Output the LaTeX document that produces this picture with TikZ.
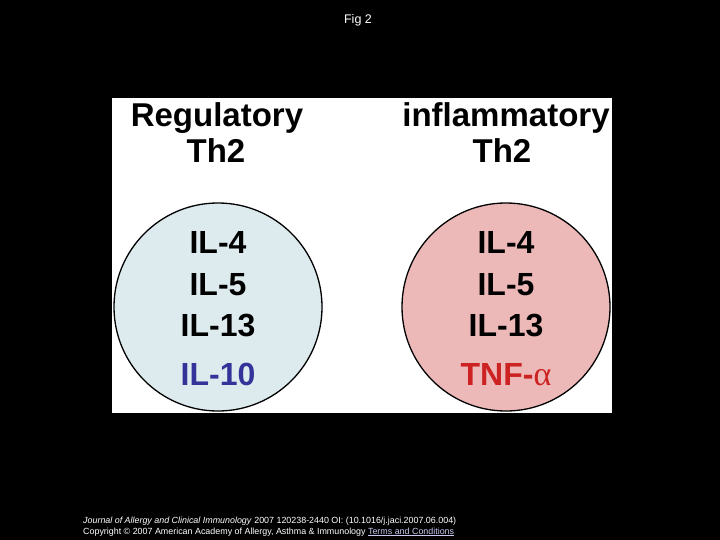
\documentclass[tikz,border=0pt]{standalone}
\usepackage{fontspec}
\setmainfont{Liberation Sans}
\newfontfamily\serifalpha{Liberation Serif}
\begin{document}
\begin{tikzpicture}[x=1pt,y=-1pt,
  head/.style={font=\fontsize{33}{36}\selectfont\bfseries, anchor=base, inner sep=0pt},
  cyto/.style={font=\fontsize{32}{36}\selectfont\bfseries, anchor=base, inner sep=0pt},
  cell/.style={circle, draw=black, line width=1.3pt, minimum size=208pt, inner sep=0pt},
  foot/.style={font=\fontsize{8.9}{10}\selectfont, text=white, anchor=base west, inner sep=0pt}]
\definecolor{regfill}{HTML}{DDEBEE}
\definecolor{inffill}{HTML}{EDB8B8}
\definecolor{ilblue}{HTML}{333399}
\definecolor{tnfred}{HTML}{CC2222}
\definecolor{linkc}{HTML}{C8C8F0}
\fill[black] (0,0) rectangle (720,540);
\useasboundingbox (0,0) rectangle (720,540);
\node[font=\fontsize{12.5}{14}\selectfont, text=white, anchor=base, inner sep=0pt] (title) at (358,24) {Fig 2};
\fill[white] (112,98) rectangle (612,413);
\node[cell, fill=regfill] (reg) at (218,307) {};
\node[cell, fill=inffill] (inf) at (506,307) {};
\node[head] (h1a) at (217,127) {Regulatory};
\node[head] (h1b) at (216,163) {Th2};
\node[head] (h2a) at (506,127) {inflammatory};
\node[head] (h2b) at (502,163) {Th2};
\node[cyto] (l4) at (218,253) {IL-4};
\node[cyto] (l5) at (218,295) {IL-5};
\node[cyto] (l13) at (218,336) {IL-13};
\node[cyto, text=ilblue] (l10) at (218,385) {IL-10};
\node[cyto] (r4) at (506,253) {IL-4};
\node[cyto] (r5) at (506,295) {IL-5};
\node[cyto] (r13) at (506,336) {IL-13};
\node[cyto, text=tnfred] (rt) at (506,385) {TNF-{\serifalpha\mdseries\fontsize{34}{36}\selectfont α}};
\node[foot] (f1) at (83,523) {\textit{Journal of Allergy and Clinical Immunology} 2007 120238-2440 OI: (10.1016/j.jaci.2007.06.004)};
\node[foot] (f2) at (83,534) {Copyright © 2007 American Academy of Allergy, Asthma \& Immunology {\color{linkc}\underline{Terms and Conditions}}};
\end{tikzpicture}
\end{document}
